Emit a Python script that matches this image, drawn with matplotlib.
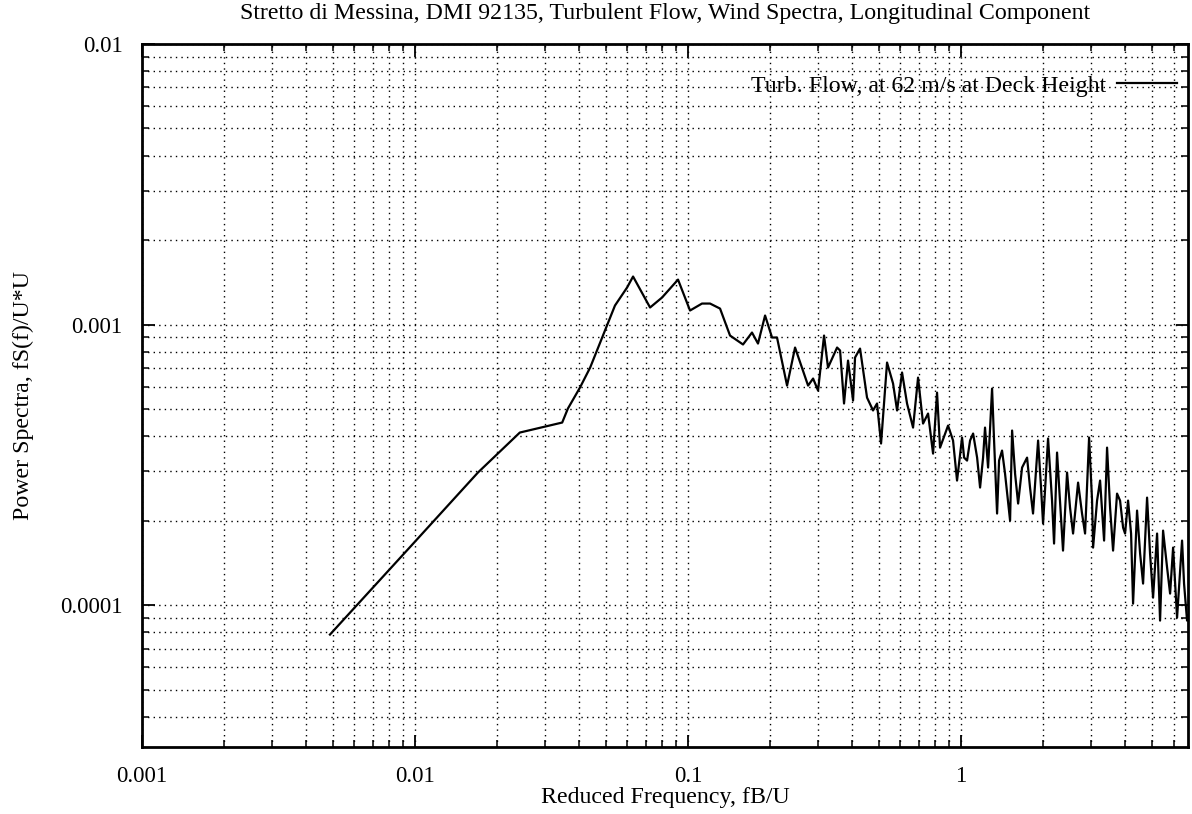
import matplotlib
matplotlib.use("Agg")
import matplotlib.pyplot as plt
from matplotlib.ticker import LogLocator, NullFormatter, FixedLocator, FixedFormatter

title = "Stretto di Messina, DMI 92135, Turbulent Flow, Wind Spectra, Longitudinal Component"
xlabel = "Reduced Frequency, fB/U"
ylabel = "Power Spectra, fS(f)/U*U"
series_label = "Turb. Flow, at 62 m/s at Deck Height"

xticks = [0.001, 0.01, 0.1, 1]
xtick_labels = ["0.001", "0.01", "0.1", "1"]
yticks = [0.0001, 0.001, 0.01]
ytick_labels = ["0.0001", "0.001", "0.01"]

freq = [
    0.00488, 0.0100, 0.0170, 0.0242, 0.0346, 0.0363, 0.0402, 0.0438, 0.0505, 0.0540,
    0.0598, 0.0629, 0.0726, 0.0803, 0.0919, 0.1017, 0.1125, 0.1204, 0.131, 0.1425,
    0.159, 0.1715, 0.1804, 0.1915, 0.2031, 0.2118, 0.2305, 0.2466, 0.2752, 0.2871,
    0.2994, 0.3149, 0.3256, 0.3515, 0.3605, 0.3727, 0.3855, 0.4022, 0.409, 0.4266,
    0.4525, 0.476, 0.4923, 0.5093, 0.5357, 0.5636, 0.583, 0.608, 0.6341, 0.6671,
    0.6958, 0.7258, 0.7571, 0.7897, 0.8167, 0.8376, 0.8962, 0.9347, 0.9667,
    1.0085, 1.026, 1.052, 1.079, 1.107, 1.145, 1.174, 1.204, 1.224, 1.256,
    1.299, 1.321, 1.355, 1.378, 1.413, 1.449, 1.512, 1.538, 1.577, 1.618,
    1.673, 1.745, 1.789, 1.835, 1.915, 1.963, 1.997, 2.083, 2.154, 2.191,
    2.247, 2.304, 2.363, 2.445, 2.507, 2.572, 2.683, 2.774, 2.846, 2.944,
    3.019, 3.045, 3.149, 3.230, 3.341, 3.426, 3.514, 3.604, 3.727, 3.823,
    3.922, 3.988, 4.090, 4.195, 4.266, 4.412, 4.527, 4.642, 4.801, 4.923,
    5.05, 5.224, 5.357, 5.495, 5.684, 5.83, 5.979, 6.183, 6.449, 6.558,
    6.726, 6.78,
]
power = [
    7.85e-5, 1.684e-4, 2.968e-4, 4.121e-4, 4.474e-4, 5.017e-4, 5.963e-4, 7.025e-4, 9.92e-4, 1.169e-3,
    1.355e-3, 1.483e-3, 1.150e-3, 1.248e-3, 1.446e-3, 1.122e-3, 1.188e-3, 1.188e-3, 1.140e-3, 9.136e-4,
    8.49e-4, 9.365e-4, 8.555e-4, 1.077e-3, 8.99e-4, 8.99e-4, 6.06e-4, 8.28e-4, 6.06e-4, 6.42e-4,
    5.817e-4, 9.136e-4, 7.025e-4, 8.28e-4, 8.08e-4, 5.23e-4, 7.44e-4, 5.36e-4, 7.63e-4, 8.21e-4,
    5.49e-4, 4.94e-4, 5.23e-4, 3.766e-4, 7.32e-4, 6.16e-4, 4.94e-4, 6.745e-4, 5.23e-4, 4.293e-4,
    6.47e-4, 4.437e-4, 4.817e-4, 3.467e-4, 5.72e-4, 3.642e-4, 4.364e-4, 3.86e-4, 2.779e-4,
    3.955e-4, 3.355e-4, 3.274e-4, 3.86e-4, 4.088e-4, 3.355e-4, 2.624e-4, 3.355e-4, 4.293e-4, 3.092e-4,
    5.91e-4, 3.86e-4, 2.12e-4, 3.274e-4, 3.554e-4, 2.943e-4, 2.001e-4, 4.19e-4, 2.943e-4, 2.301e-4,
    3.092e-4, 3.355e-4, 2.624e-4, 2.12e-4, 3.86e-4, 2.624e-4, 1.953e-4, 3.924e-4, 2.358e-4, 1.657e-4,
    3.497e-4, 2.358e-4, 1.564e-4, 2.968e-4, 2.226e-4, 1.799e-4, 2.733e-4, 2.12e-4, 1.799e-4, 3.955e-4,
    2.358e-4, 1.603e-4, 2.358e-4, 2.779e-4, 1.698e-4, 3.642e-4, 2.226e-4, 1.564e-4, 2.497e-4, 2.358e-4,
    1.889e-4, 1.799e-4, 2.358e-4, 1.799e-4, 1.012e-4, 2.172e-4, 1.526e-4, 1.193e-4, 2.416e-4, 1.526e-4,
    1.063e-4, 1.799e-4, 8.805e-5, 1.843e-4, 1.36e-4, 1.099e-4, 1.603e-4, 9.02e-5, 1.698e-4, 1.193e-4,
    8.805e-5, 9.17e-5,
]

plt.rcParams['font.family'] = ['Liberation Serif', 'DejaVu Serif']
FS = 17.2

fig = plt.figure(figsize=(11.92, 8.14), dpi=100)
ax = fig.add_axes([142/1192, 1 - 747/814, (1188-142)/1192, (747-44)/814])

ax.plot(freq, power, color='black', linewidth=1.6, label=series_label)

ax.set_xscale('log')
ax.set_yscale('log')
ax.set_xlim(0.001, 6.78)
ax.set_ylim(3.12e-5, 0.01)

ax.xaxis.set_major_locator(FixedLocator(xticks))
ax.xaxis.set_major_formatter(FixedFormatter(xtick_labels))
ax.yaxis.set_major_locator(FixedLocator(yticks))
ax.yaxis.set_major_formatter(FixedFormatter(ytick_labels))
ax.xaxis.set_minor_locator(LogLocator(base=10, subs=range(2, 10), numticks=20))
ax.yaxis.set_minor_locator(LogLocator(base=10, subs=range(2, 10), numticks=20))
ax.xaxis.set_minor_formatter(NullFormatter())
ax.yaxis.set_minor_formatter(NullFormatter())

ax.tick_params(which='both', direction='in', top=True, right=True, color='black', labelsize=16.5)
ax.tick_params(which='major', length=9, width=1.3, pad=14)
ax.tick_params(which='minor', length=5, width=1.1)

ax.grid(True, which='both', color='black', linestyle=(0, (1, 3)), linewidth=1.0)

for s in ax.spines.values():
    s.set_linewidth(2.0)

ax.set_title(title, fontsize=FS, pad=18)
ax.set_xlabel(xlabel, fontsize=FS, labelpad=0)
ax.set_ylabel(ylabel, fontsize=FS, labelpad=19)

leg = ax.legend(loc='upper right', bbox_to_anchor=(1.004, 0.978), frameon=False,
                markerfirst=False, fontsize=FS, handlelength=2.5,
                borderaxespad=0.25, handletextpad=0.45)
fig.savefig('out.png', dpi=100, facecolor='white')
